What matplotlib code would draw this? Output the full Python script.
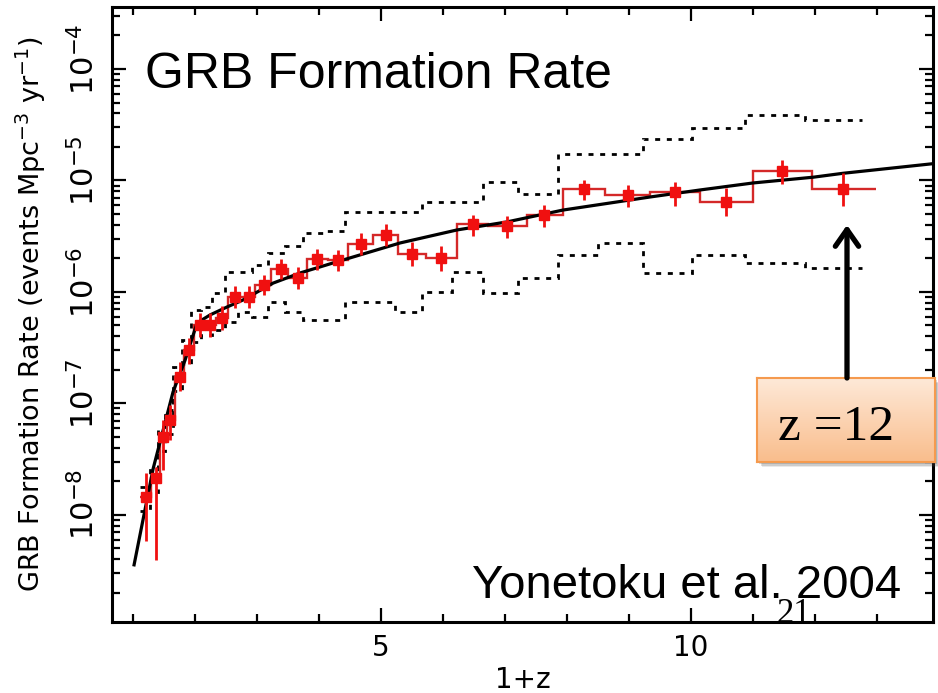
import numpy as np
import matplotlib
matplotlib.use('Agg')
import matplotlib.pyplot as plt
import matplotlib.transforms as mtransforms
from matplotlib.colors import LinearSegmentedColormap
from matplotlib.patches import Rectangle, FancyArrowPatch, ArrowStyle
from matplotlib.ticker import FixedLocator, MultipleLocator, LogLocator, NullFormatter

# GRB formation rate vs redshift (Yonetoku et al. 2004)
one_plus_z = [1.21, 1.363, 1.484, 1.597, 1.758, 1.895, 2.081, 2.242, 2.435, 2.645,
              2.871, 3.113, 3.387, 3.661, 3.968, 4.306, 4.677, 5.081, 5.500, 5.968,
              6.484, 7.032, 7.629, 8.274, 8.984, 9.742, 10.565, 11.468, 12.452]
rate = [1.45e-8, 2.15e-8, 5.01e-8, 7.11e-8, 1.73e-7, 3.02e-7, 5.06e-7, 5.06e-7, 5.85e-7, 9.02e-7,
        9.02e-7, 1.16e-6, 1.61e-6, 1.34e-6, 1.98e-6, 1.94e-6, 2.69e-6, 3.24e-6, 2.19e-6, 2.02e-6,
        4.07e-6, 3.91e-6, 4.91e-6, 8.39e-6, 7.41e-6, 7.89e-6, 6.41e-6, 1.22e-5, 8.39e-6]
# error bars in dex
err_up = [0.21, 0.10, 0.15, 0.13, 0.13, 0.11, 0.11, 0.11, 0.11, 0.10,
          0.10, 0.09, 0.09, 0.10, 0.09, 0.09, 0.10, 0.10, 0.11, 0.11,
          0.08, 0.09, 0.09, 0.08, 0.09, 0.09, 0.13, 0.10, 0.14]
err_dn = [0.40, 0.74, 0.30, 0.18, 0.13, 0.13, 0.11, 0.11, 0.11, 0.10,
          0.10, 0.09, 0.09, 0.10, 0.10, 0.10, 0.10, 0.10, 0.11, 0.12,
          0.11, 0.11, 0.11, 0.10, 0.11, 0.13, 0.13, 0.12, 0.15]
bin_edges = [1.113, 1.290, 1.431, 1.548, 1.677, 1.823, 1.981, 2.140, 2.331, 2.532,
             2.742, 2.968, 3.226, 3.500, 3.802, 4.140, 4.473, 4.876, 5.279, 5.726,
             6.221, 6.731, 7.350, 7.940, 8.613, 9.339, 10.145, 11.000, 11.952, 12.984]

# 1-sigma envelope
bound_edges = [1.113, 1.274, 1.403, 1.516, 1.645, 1.790, 1.935, 2.097, 2.274, 2.484,
               2.694, 2.919, 3.177, 3.452, 3.742, 4.065, 4.419, 4.823, 5.226, 5.661,
               6.145, 6.645, 7.210, 7.855, 8.500, 9.226, 10.016, 10.871, 11.839, 12.758]
rate_upper = [1.78e-8, 2.64e-8, 6.15e-8, 8.75e-8, 2.12e-7, 3.72e-7, 6.90e-7, 7.33e-7, 9.79e-7, 1.51e-6,
              1.51e-6, 1.75e-6, 2.24e-6, 2.59e-6, 3.38e-6, 3.52e-6, 5.21e-6, 5.21e-6, 5.21e-6, 6.41e-6,
              6.41e-6, 9.70e-6, 7.57e-6, 1.73e-5, 1.73e-5, 2.36e-5, 2.96e-5, 3.87e-5, 3.49e-5]
rate_lower = [1.09e-8, 1.61e-8, 3.75e-8, 5.32e-8, 1.29e-7, 2.26e-7, 3.56e-7, 4.11e-7, 4.56e-7, 5.38e-7,
              6.62e-7, 5.97e-7, 8.13e-7, 6.62e-7, 5.61e-7, 5.61e-7, 8.13e-7, 8.13e-7, 6.62e-7, 1.00e-6,
              1.51e-6, 9.79e-7, 1.34e-6, 2.15e-6, 2.75e-6, 1.48e-6, 2.15e-6, 1.82e-6, 1.64e-6]

# broken power-law fit
fit_x = [1.016, 1.323, 1.645, 1.839, 2.032, 2.242, 2.516, 2.774, 3.258, 3.694, 4.226,
         5.306, 6.226, 7.032, 7.935, 9.339, 10.145, 11.0, 11.97, 12.45, 13.98]
fit_rate = [3.56e-9, 2.59e-8, 1.27e-7, 2.45e-7, 5.27e-7, 6.22e-7, 7.33e-7, 8.47e-7, 1.20e-6, 1.48e-6, 1.82e-6,
            2.75e-6, 3.60e-6, 4.25e-6, 5.43e-6, 7.11e-6, 8.22e-6, 9.5e-6, 1.07e-5, 1.16e-5, 1.43e-5]

W, H = 938, 693
fig = plt.figure(figsize=(W / 100, H / 100), dpi=100)
ax = fig.add_axes([112 / W, 1 - 621.7 / H, 821 / W, 614.7 / H])
ax.set_yscale('log')
ax.set_xlim(0.66, 13.9)
ax.set_ylim(1.1e-9, 3.6e-4)

dots = (0, (1.8, 2.4))
ax.stairs(rate_upper, bound_edges, baseline=None, color='k', lw=2, ls=dots, zorder=2)
ax.stairs(rate_lower, bound_edges, baseline=None, color='k', lw=2, ls=dots, zorder=2)
ax.stairs(rate, bin_edges, baseline=None, color='#d42828', lw=1.7, zorder=3)
ax.plot(fit_x, fit_rate, color='k', lw=2.3, zorder=4)

r = np.array(rate)
yerr = [r - r * 10 ** -np.array(err_dn), r * 10 ** np.array(err_up) - r]
ax.errorbar(one_plus_z, rate, yerr=yerr, fmt='s', color='#f01010', ms=6.5,
            elinewidth=2, capsize=0, zorder=5)

for s in ax.spines.values():
    s.set_linewidth(2.2)

ax.xaxis.set_major_locator(FixedLocator([5, 10]))
ax.xaxis.set_minor_locator(MultipleLocator(1))
ax.yaxis.set_major_locator(LogLocator(base=10, numticks=20))
ax.yaxis.set_minor_locator(LogLocator(base=10, subs=range(2, 10), numticks=20))
ax.yaxis.set_major_formatter(NullFormatter())
ax.yaxis.set_minor_formatter(NullFormatter())
ax.tick_params(which='both', direction='in', top=True, right=True, width=1.6)
ax.tick_params(which='major', length=10)
ax.tick_params(which='minor', length=5.5)
ax.tick_params(axis='x', labelsize=20, pad=9)

# y tick labels drawn rotated, with the "10" centred on the tick
ylab_trans = mtransforms.blended_transform_factory(ax.transAxes, ax.transData) + \
    mtransforms.ScaledTranslation(0, 0.10, fig.dpi_scale_trans)
for d in range(-8, -3):
    ax.text(-0.014, 10.0 ** d, r'$10^{%d}$' % d, transform=ylab_trans, rotation=90,
            ha='right', va='center', fontsize=22)

ax.set_ylabel(r'GRB Formation Rate (events Mpc$^{-3}$ yr$^{-1}$)', fontsize=19.5)
ax.yaxis.set_label_coords(-0.078, 0.5)
ax.set_xlabel('1+z', fontsize=20)
ax.xaxis.set_label_coords(0.5, -0.072)

fig.text(145 / W, 1 - 88 / H, 'GRB Formation Rate', fontsize=36,
         family='Liberation Sans', va='baseline')
fig.text(472 / W, 1 - 598 / H, 'Yonetoku et al. 2004', fontsize=34,
         family='Liberation Sans', va='baseline')
fig.text(776 / W, 1 - 623 / H, '21', fontsize=25, family='Liberation Serif', va='baseline')

# callout box with arrow
bx, by, bw, bh = 757, 378, 178, 84
for off, a in [(5, 0.12), (3.5, 0.18), (2, 0.22)]:
    fig.patches.append(Rectangle(((bx + off) / W, 1 - (by + bh + off) / H), bw / W, bh / H,
                                 transform=fig.transFigure, facecolor='0.3', alpha=a,
                                 edgecolor='none', zorder=1))
bax = fig.add_axes([bx / W, 1 - (by + bh) / H, bw / W, bh / H], zorder=2)
grad = np.linspace(1, 0, 256)[:, None]
cmap = LinearSegmentedColormap.from_list('peach', ['#fee9d8', '#f9bd8c'])
bax.imshow(grad, aspect='auto', extent=[0, 1, 0, 1], origin='lower', cmap=cmap)
bax.set_xticks([])
bax.set_yticks([])
for s in bax.spines.values():
    s.set_color('#f59a4e')
    s.set_linewidth(1.5)
bax.text(0.444, 0.262, 'z =12', fontsize=37, family='Liberation Serif',
         ha='center', va='baseline')

arrow = FancyArrowPatch((847 / W, 1 - 378 / H), (847 / W, 1 - 225 / H),
                        transform=fig.transFigure,
                        arrowstyle=ArrowStyle('->', head_length=0.6, head_width=0.42),
                        mutation_scale=20, lw=3.8, color='k', shrinkA=0, shrinkB=0,
                        capstyle='round', joinstyle='round', zorder=3)
fig.patches.append(arrow)

fig.savefig('out.png', dpi=100, facecolor='white')
